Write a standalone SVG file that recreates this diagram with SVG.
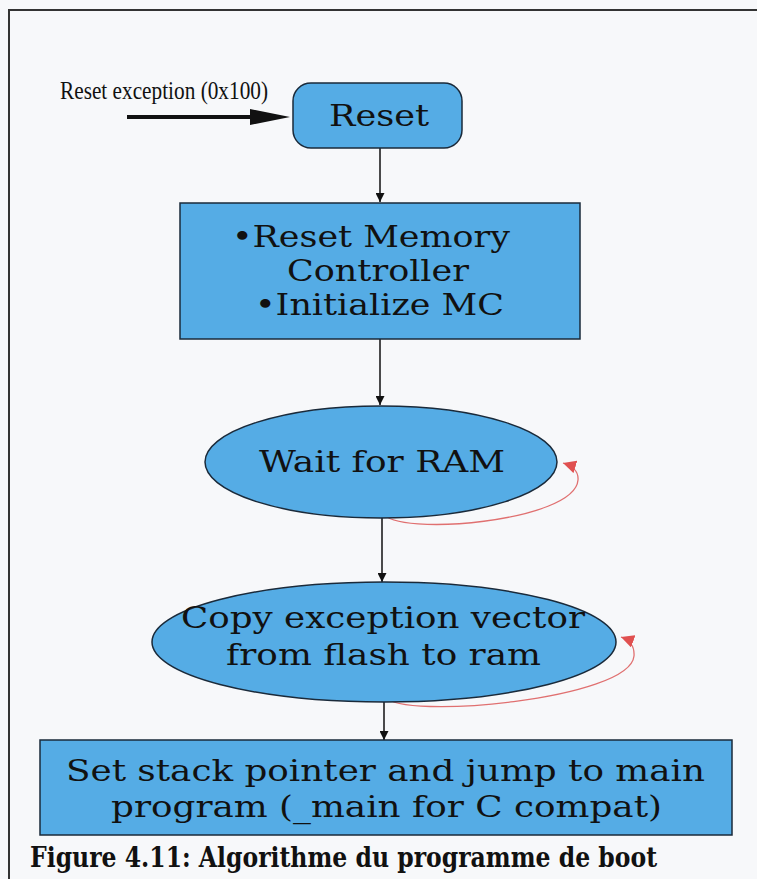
<svg xmlns="http://www.w3.org/2000/svg" width="757" height="879" viewBox="0 0 757 879">
  <style>
    .node { fill: #55ace5; stroke: #1a2a3a; stroke-width: 1.5; }
    .lbl { font-family: "DejaVu Serif", "Liberation Serif", serif; fill: #111; font-size: 29px; }
    .flow { stroke: #111; stroke-width: 1.5; fill: none; }
    .loop { stroke: #e07070; stroke-width: 1.3; fill: none; }
  </style>
  <defs>
    <marker id="ah" viewBox="0 0 10 10" refX="10" refY="5" markerWidth="9" markerHeight="9" markerUnits="userSpaceOnUse" orient="auto">
      <path d="M0,0 L10,5 L0,10 Z" fill="#111"/>
    </marker>
    <marker id="ahRed" viewBox="0 0 10 10" refX="10" refY="5" markerWidth="13" markerHeight="13" markerUnits="userSpaceOnUse" orient="auto">
      <path d="M0,0 L10,5 L0,10 Z" fill="#e05050"/>
    </marker>
  </defs>

  <!-- page background and frame -->
  <rect x="0" y="0" width="757" height="879" fill="#f7f8fa"/>
  <path d="M9,879 V10 H757" fill="none" stroke="#333" stroke-width="2"/>

  <!-- connectors -->
  <g id="connectors">
    <line x1="127" y1="117" x2="250" y2="117" stroke="#111" stroke-width="4"/>
    <path d="M250,109 L290,117 L250,125 Z" fill="#111"/>
    <line class="flow" x1="380" y1="148" x2="380" y2="202" marker-end="url(#ah)"/>
    <line class="flow" x1="380" y1="339" x2="380" y2="405" marker-end="url(#ah)"/>
    <line class="flow" x1="382" y1="517" x2="382" y2="582" marker-end="url(#ah)"/>
    <line class="flow" x1="384" y1="702" x2="384" y2="740" marker-end="url(#ah)"/>
    <path class="loop" d="M383,513 C395,537 575,522 578,480 Q579,468 563,463" marker-end="url(#ahRed)"/>
    <path class="loop" d="M386,697 C400,720 630,700 634,656 Q635,642 621,637" marker-end="url(#ahRed)"/>
  </g>

  <!-- entry label -->
  <text x="60" y="99" font-family="Liberation Serif, serif" font-size="26" fill="#111" textLength="208" lengthAdjust="spacingAndGlyphs">Reset exception (0x100)</text>

  <g id="reset">
    <rect class="node" x="293" y="83" width="169" height="65" rx="18"/>
    <text class="lbl" x="329" y="126" textLength="100" lengthAdjust="spacingAndGlyphs">Reset</text>
  </g>

  <g id="init-mc">
    <rect class="node" x="180" y="203" width="400" height="136"/>
    <text class="lbl" x="232" y="247" textLength="278" lengthAdjust="spacingAndGlyphs">•Reset Memory</text>
    <text class="lbl" x="287" y="281" textLength="182" lengthAdjust="spacingAndGlyphs">Controller</text>
    <text class="lbl" x="255" y="315" textLength="249" lengthAdjust="spacingAndGlyphs">•Initialize MC</text>
  </g>

  <g id="wait-ram">
    <ellipse class="node" cx="381" cy="462" rx="176" ry="56"/>
    <text class="lbl" x="259" y="472" textLength="246" lengthAdjust="spacingAndGlyphs">Wait for RAM</text>
  </g>

  <g id="copy-vector">
    <ellipse class="node" cx="384" cy="642" rx="232" ry="60"/>
    <text class="lbl" x="181" y="628" textLength="404" lengthAdjust="spacingAndGlyphs">Copy exception vector</text>
    <text class="lbl" x="226" y="665" textLength="315" lengthAdjust="spacingAndGlyphs">from flash to ram</text>
  </g>

  <g id="jump-main">
    <rect class="node" x="40" y="740" width="692" height="95"/>
    <text class="lbl" x="66" y="781" style="font-size:30px" textLength="639" lengthAdjust="spacingAndGlyphs">Set stack pointer and jump to main</text>
    <text class="lbl" x="111" y="817" style="font-size:30px" textLength="551" lengthAdjust="spacingAndGlyphs">program (_main for C compat)</text>
  </g>

  <!-- caption -->
  <text x="30" y="867" font-family="DejaVu Serif, serif" font-size="27" font-weight="bold" fill="#111" textLength="627" lengthAdjust="spacingAndGlyphs">Figure 4.11: Algorithme du programme de boot</text>
</svg>
